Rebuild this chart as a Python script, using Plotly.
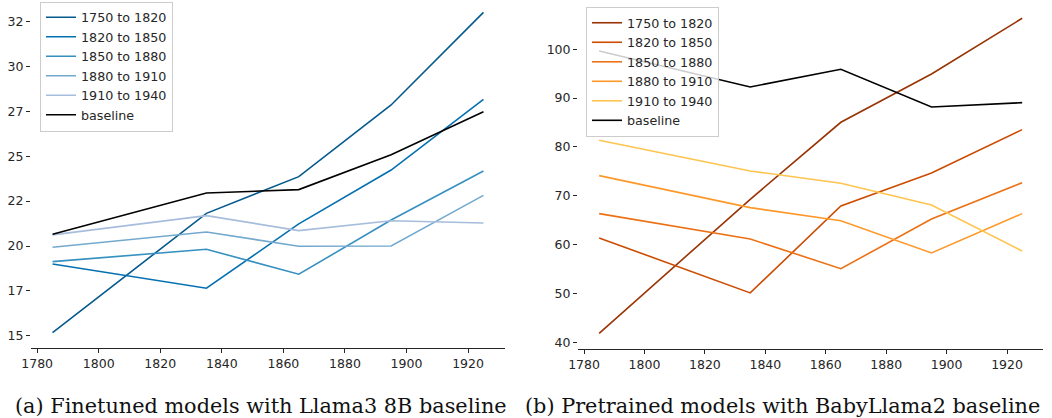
import plotly.graph_objects as go

years = [1785, 1835, 1865, 1895, 1925]
labels = ["1750 to 1820", "1820 to 1850", "1850 to 1880", "1880 to 1910", "1910 to 1940", "baseline"]

# (a) Finetuned models with Llama3 8B baseline
ft_1750 = [15.18, 21.82, 23.86, 27.85, 33.0]
ft_1820 = [19.0, 17.65, 21.23, 24.23, 28.16]
ft_1850 = [19.13, 19.82, 18.43, 21.45, 24.18]
ft_1880 = [19.93, 20.78, 19.99, 20.0, 22.82]
ft_1910 = [20.62, 21.69, 20.86, 21.41, 21.28]
ft_base = [20.66, 22.95, 23.14, 25.08, 27.47]

# (b) Pretrained models with BabyLlama2 baseline
pt_1750 = [41.84, 69.28, 85.05, 94.95, 106.35]
pt_1820 = [61.36, 50.1, 67.9, 74.67, 83.54]
pt_1850 = [66.34, 61.15, 55.07, 65.25, 72.69]
pt_1880 = [74.12, 67.57, 64.9, 58.29, 66.34]
pt_1910 = [81.37, 75.08, 72.56, 68.12, 58.7]
pt_base = [99.66, 92.28, 95.9, 88.19, 89.07]

blues = ["#045a8d", "#0570b0", "#3690c0", "#74a9cf", "#a6bddb", "#000000"]
oranges = ["#993404", "#cc4c02", "#ec7014", "#fe9929", "#fec44f", "#000000"]

left_ticks = [15, 17.5, 20, 22.5, 25, 27.5, 30, 32.5]
left_ticktext = ["15", "17", "20", "22", "25", "27", "30", "32"]
right_ticks = [40, 50, 60, 70, 80, 90, 100]
x_ticks = [1780, 1800, 1820, 1840, 1860, 1880, 1900, 1920]

captions = ["(a) Finetuned models with Llama3 8B baseline",
            "(b) Pretrained models with BabyLlama2 baseline"]

W, H = 1052, 418
fig = go.Figure()

for lab, ys, c in zip(labels, [ft_1750, ft_1820, ft_1850, ft_1880, ft_1910, ft_base], blues):
    fig.add_trace(go.Scatter(x=years, y=ys, mode="lines", name=lab,
                             line=dict(color=c, width=1.6),
                             xaxis="x", yaxis="y", legend="legend"))
for lab, ys, c in zip(labels, [pt_1750, pt_1820, pt_1850, pt_1880, pt_1910, pt_base], oranges):
    fig.add_trace(go.Scatter(x=years, y=ys, mode="lines", name=lab,
                             line=dict(color=c, width=1.6),
                             xaxis="x2", yaxis="y2", legend="legend2"))

tickfont = dict(family="DejaVu Sans", size=12.5, color="#262626")
xcommon = dict(range=[1778, 1932], tickvals=x_ticks, showgrid=False, zeroline=False,
               showline=True, linecolor="#262626", linewidth=1.2, ticks="outside",
               ticklen=4, tickcolor="#262626", tickfont=tickfont, automargin=False)
ycommon = dict(showgrid=False, zeroline=False, showline=False, ticks="outside",
               ticklen=4, tickcolor="#262626", tickfont=tickfont, automargin=False)

legcommon = dict(bgcolor="rgba(255,255,255,0.8)", bordercolor="#cccccc", borderwidth=1,
                 font=dict(family="DejaVu Sans", size=12.7, color="#262626"),
                 xanchor="left", yanchor="top", itemwidth=30, tracegroupgap=0)

fig.update_layout(
    width=W, height=H,
    margin=dict(l=0, r=0, t=0, b=0, pad=0, autoexpand=False),
    plot_bgcolor="white", paper_bgcolor="white",
    xaxis=dict(domain=[31 / W, 505 / W], anchor="y", **xcommon),
    yaxis=dict(domain=[1 - 348.3 / H, 1.0], anchor="x", range=[14.31, 33.69],
               tickvals=left_ticks, ticktext=left_ticktext, **ycommon),
    xaxis2=dict(domain=[578 / W, 1043.3 / W], anchor="y2", **xcommon),
    yaxis2=dict(domain=[1 - 349.1 / H, 1 - 2.4 / H], anchor="x2", range=[38.6, 109.6],
                tickvals=right_ticks, **ycommon),
    legend=dict(x=40 / W, y=1 - 1.5 / H, **legcommon),
    legend2=dict(x=586 / W, y=1 - 7.0 / H, **legcommon),
    showlegend=True,
)

for txt, cx in zip(captions, [261 / W, 782 / W]):
    fig.add_annotation(text=txt, x=cx, y=1 - 406 / H, xref="paper", yref="paper",
                       xanchor="center", yanchor="middle", showarrow=False,
                       font=dict(family="DejaVu Serif", size=20.8, color="#111111"))

fig.write_html("out.html", config={"displayModeBar": False},
               post_script="document.body.style.margin='0';document.body.style.overflow='hidden';")
